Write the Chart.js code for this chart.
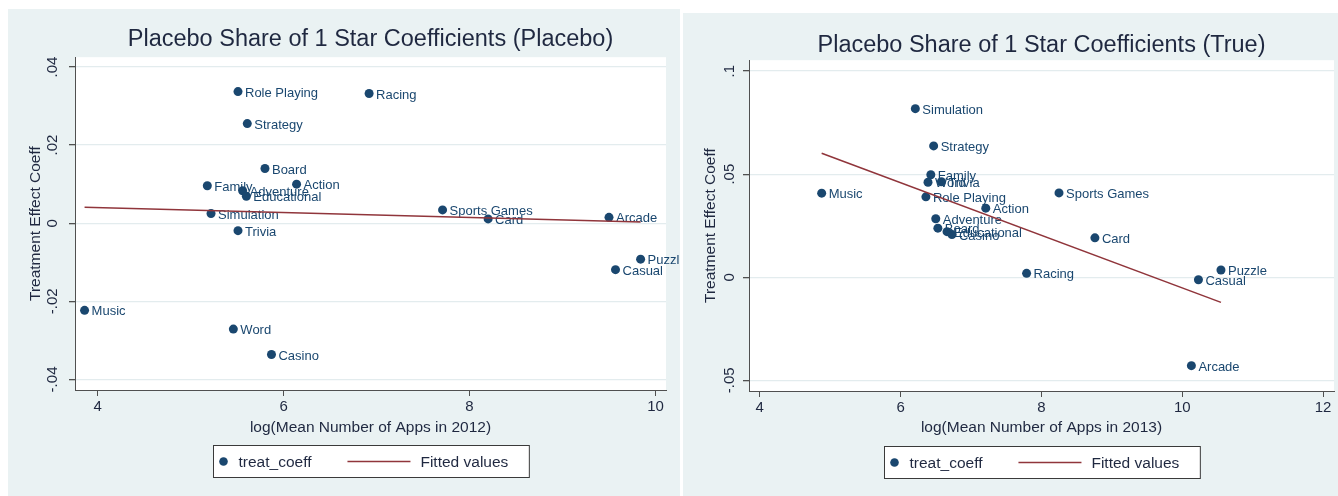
<!DOCTYPE html>
<html>
<head>
<meta charset="utf-8">
<script src="https://cdn.jsdelivr.net/npm/chart.js"></script>
<style>
html,body{margin:0;padding:0;background:#fff;overflow:hidden;width:1338px;height:496px;}
.bg{position:absolute;background:#EAF2F3;}
.wrap{position:absolute;top:0;height:496px;overflow:hidden;}
canvas{position:absolute;top:0;left:0;}
</style>
</head>
<body>
<div class="bg" style="left:8px;top:9px;width:672px;height:487px"></div>
<div class="bg" style="left:683px;top:13px;width:655px;height:483px"></div>
<div class="wrap" style="left:0;width:680px"><canvas id="c1" width="741" height="496"></canvas></div>
<div class="wrap" style="left:683px;width:655px"><canvas id="c2" width="717" height="496"></canvas></div>
<script>
// ---------- DATA: Placebo (2012) ----------
const categories2012 = ['Role Playing','Racing','Strategy','Board','Family','Adventure','Educational','Action','Simulation','Trivia','Sports Games','Card','Arcade','Puzzle','Casual','Music','Word','Casino'];
const logApps2012 = [5.51, 6.92, 5.61, 5.80, 5.18, 5.56, 5.60, 6.14, 5.22, 5.51, 7.71, 8.20, 9.50, 9.84, 9.57, 3.86, 5.46, 5.87];
const coeff2012 = [0.0337, 0.0332, 0.0255, 0.0140, 0.0096, 0.0083, 0.0069, 0.0100, 0.0025, -0.0019, 0.0034, 0.0011, 0.0015, -0.0092, -0.0119, -0.0223, -0.0271, -0.0336];
const fitX2012 = [3.86, 9.84];
const fitY2012 = [0.0041, 0.0003];
const xTicks2012 = [4, 6, 8, 10];
const xTickLabels2012 = ['4', '6', '8', '10'];
const yTicks2012 = [-0.04, -0.02, 0, 0.02, 0.04];
const yTickLabels2012 = ['-.04', '-.02', '0', '.02', '.04'];

// ---------- DATA: True (2013) ----------
const categories2013 = ['Simulation','Strategy','Family','Word','Trivia','Music','Role Playing','Action','Adventure','Board','Educational','Casino','Sports Games','Card','Racing','Puzzle','Casual','Arcade'];
const logApps2013 = [6.21, 6.47, 6.43, 6.39, 6.58, 4.88, 6.36, 7.21, 6.50, 6.53, 6.66, 6.73, 8.25, 8.76, 7.79, 10.55, 10.23, 10.13];
const coeff2013 = [0.0818, 0.0637, 0.0497, 0.0461, 0.0463, 0.0408, 0.0390, 0.0335, 0.0284, 0.0238, 0.0221, 0.0207, 0.0409, 0.0191, 0.0019, 0.0035, -0.0012, -0.0429];
const fitX2013 = [4.88, 10.55];
const fitY2013 = [0.0602, -0.0122];
const xTicks2013 = [4, 6, 8, 10, 12];
const xTickLabels2013 = ['4', '6', '8', '10', '12'];
const yTicks2013 = [-0.05, 0, 0.05, 0.1];
const yTickLabels2013 = ['-.05', '0', '.05', '.1'];

// ---------- STYLE ----------
const FONT = "'Liberation Sans', Arial, Helvetica, sans-serif";
const NAVY = '#1A476F';
const MAROON = '#90353B';
const TEXT = '#1f2840';
const AXIS = '#505050';
const GRID = '#E3ECEE';
Chart.defaults.font.family = FONT;

const plotBg = {
  id: 'plotBg',
  beforeDraw(chart) {
    const {ctx, chartArea: a} = chart;
    ctx.save();
    ctx.fillStyle = '#ffffff';
    ctx.fillRect(a.left, a.top, a.right - a.left, a.bottom - a.top);
    ctx.restore();
  }
};

const pointLabels = {
  id: 'pointLabels',
  afterDatasetDraw(chart, args, opts) {
    if (args.index !== 0) return;
    const ctx = chart.ctx;
    const meta = chart.getDatasetMeta(0);
    ctx.save();
    ctx.font = '13px ' + FONT;
    ctx.fillStyle = NAVY;
    ctx.textAlign = 'left';
    ctx.textBaseline = 'middle';
    meta.data.forEach((el, i) => {
      ctx.fillText(opts.labels[i], el.x + 7, el.y + 1.5);
    });
    ctx.restore();
  }
};

const boxLegend = {
  id: 'boxLegend',
  afterDraw(chart) {
    const ctx = chart.ctx;
    const a = chart.chartArea;
    const ds = chart.data.datasets;
    ctx.save();
    ctx.font = '15.5px ' + FONT;
    const w1 = ctx.measureText(ds[0].label).width;
    const w2 = ctx.measureText(ds[1].label).width;
    const total = 10 + 15 + w1 + 36 + 63 + 10 + w2 + 21;
    const cx = (a.left + a.right) / 2;
    const left = Math.round(cx - total / 2) + 0.5;
    const top = a.bottom + 55.5;
    const h = 32;
    const my = top + h / 2;
    ctx.fillStyle = '#ffffff';
    ctx.fillRect(left, top, total, h);
    ctx.strokeStyle = '#3a3a3a';
    ctx.lineWidth = 1;
    ctx.strokeRect(left, top, total, h);
    ctx.fillStyle = ds[0].backgroundColor;
    ctx.beginPath();
    ctx.arc(left + 10, my, 4.3, 0, Math.PI * 2);
    ctx.fill();
    ctx.fillStyle = TEXT;
    ctx.textBaseline = 'middle';
    ctx.textAlign = 'left';
    let x = left + 25;
    ctx.fillText(ds[0].label, x, my + 1);
    x += w1 + 36;
    ctx.strokeStyle = ds[1].borderColor;
    ctx.lineWidth = 1.6;
    ctx.beginPath();
    ctx.moveTo(x, my);
    ctx.lineTo(x + 63, my);
    ctx.stroke();
    x += 63 + 10;
    ctx.fillStyle = TEXT;
    ctx.fillText(ds[1].label, x, my + 1);
    ctx.restore();
  }
};

function makeChart(id, d, g) {
  const pts = d.xs.map((x, i) => ({x: x, y: d.ys[i]}));
  const fit = d.fx.map((x, i) => ({x: x, y: d.fy[i]}));
  return new Chart(document.getElementById(id), {
    type: 'scatter',
    data: {
      datasets: [
        {type: 'scatter', label: 'treat_coeff', data: pts, backgroundColor: NAVY, borderColor: NAVY,
         pointRadius: 4.5, borderWidth: 0, order: 1},
        {type: 'line', label: 'Fitted values', data: fit, borderColor: MAROON, borderWidth: 1.6,
         pointRadius: 0, fill: false, showLine: true, tension: 0, order: 0}
      ]
    },
    options: {
      responsive: false,
      animation: false,
      events: [],
      layout: {autoPadding: false, padding: {left: 0, right: 0, top: 0, bottom: g.padBottom}},
      plugins: {
        legend: {display: false},
        tooltip: {enabled: false},
        title: {display: true, text: d.title, color: TEXT,
                font: {family: FONT, size: 23.5, weight: 'normal'},
                padding: {top: g.titleTop, bottom: g.titleBottom}},
        pointLabels: {labels: d.labels}
      },
      scales: {
        x: {
          type: 'linear', position: 'bottom', min: g.xmin, max: g.xmax,
          afterBuildTicks: s => { s.ticks = d.xTicks.map(v => ({value: v})); },
          ticks: {callback: (v, i) => d.xTickLabels[i], color: TEXT, padding: 2,
                  font: {family: FONT, size: 15}, maxRotation: 0, autoSkip: false},
          grid: {drawOnChartArea: false, drawTicks: true, tickLength: 6, tickColor: AXIS, color: AXIS},
          border: {display: true, color: AXIS, width: 1},
          title: {display: true, text: d.xTitle, color: TEXT, font: {family: FONT, size: 15.5},
                  padding: {top: 0, bottom: g.xTitlePad}},
          afterFit: s => { s.height = 50; }
        },
        y: {
          type: 'linear', position: 'left', min: g.ymin, max: g.ymax,
          afterBuildTicks: s => { s.ticks = d.yTicks.map(v => ({value: v})); },
          ticks: {callback: (v, i) => d.yTickLabels[i], color: TEXT, padding: g.yTickPad,
                  font: {family: FONT, size: 15}, minRotation: 90, maxRotation: 90,
                  crossAlign: 'center', autoSkip: false},
          grid: {color: GRID, lineWidth: 1.3, drawTicks: true, tickLength: 6, tickColor: AXIS},
          border: {display: true, color: AXIS, width: 1},
          title: {display: true, text: 'Treatment Effect Coeff', color: TEXT,
                  font: {family: FONT, size: 15.5}, padding: {top: g.yTitlePad, bottom: 0}},
          afterFit: s => { s.width = g.yWidth; }
        },
        yR: {
          type: 'linear', position: 'right', display: true,
          ticks: {display: false}, grid: {display: false}, border: {display: false},
          title: {display: false},
          afterFit: s => { s.width = g.rightWidth; }
        }
      }
    },
    plugins: [plotBg, pointLabels, boxLegend]
  });
}

makeChart('c1', {
  xs: logApps2012, ys: coeff2012, fx: fitX2012, fy: fitY2012, labels: categories2012,
  xTicks: xTicks2012, xTickLabels: xTickLabels2012, yTicks: yTicks2012, yTickLabels: yTickLabels2012,
  title: 'Placebo Share of 1 Star Coefficients (Placebo)',
  xTitle: 'log(Mean Number of Apps in 2012)'
}, {
  xmin: 3.757, xmax: 10.113, ymin: -0.0427, ymax: 0.0425,
  yWidth: 75, rightWidth: 75, padBottom: 56, titleTop: 25, titleBottom: 4,
  xTitlePad: 3, yTitlePad: 26, yTickPad: 3
});

makeChart('c2', {
  xs: logApps2013, ys: coeff2013, fx: fitX2013, fy: fitY2013, labels: categories2013,
  xTicks: xTicks2013, xTickLabels: xTickLabels2013, yTicks: yTicks2013, yTickLabels: yTickLabels2013,
  title: 'Placebo Share of 1 Star Coefficients (True)',
  xTitle: 'log(Mean Number of Apps in 2013)'
}, {
  xmin: 3.848, xmax: 12.155, ymin: -0.0552, ymax: 0.1053,
  yWidth: 66, rightWidth: 66, padBottom: 55, titleTop: 31, titleBottom: 1,
  xTitlePad: 4, yTitlePad: 18, yTickPad: 0
});
</script>
</body>
</html>
